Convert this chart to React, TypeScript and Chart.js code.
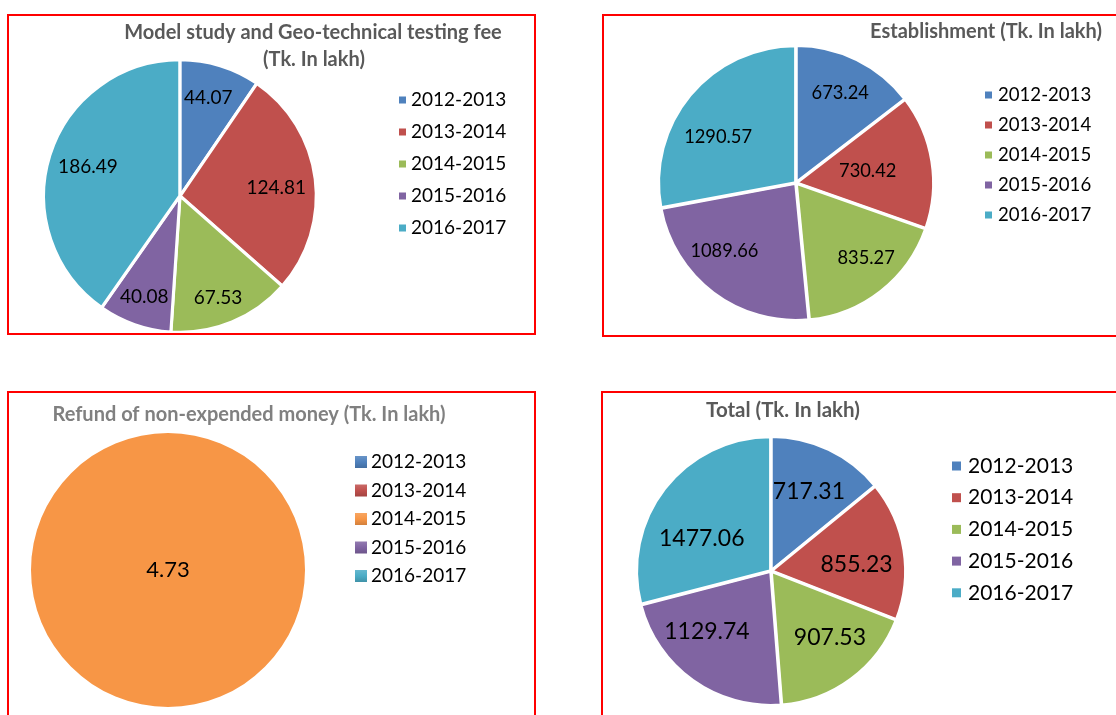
import React, { useEffect, useRef } from "react";
import { Chart, registerables } from "chart.js";

Chart.register(...registerables);

// ---------- data ----------
const years = ["2012-2013", "2013-2014", "2014-2015", "2015-2016", "2016-2017"];

const modelStudyValues = [44.07, 124.81, 67.53, 40.08, 186.49];
const establishmentValues = [673.24, 730.42, 835.27, 1089.66, 1290.57];
const refundValues = [0, 0, 4.73, 0, 0];
const totalValues = [717.31, 855.23, 907.53, 1129.74, 1477.06];

const modelStudyTitle = ["Model study and Geo-technical testing fee", "(Tk. In lakh)"];
const establishmentTitle = ["Establishment (Tk. In lakh)"];
const refundTitle = ["Refund of non-expended money (Tk. In lakh)"];
const totalTitle = ["Total (Tk. In lakh)"];

const officeColors = ["#4F81BD", "#C0504D", "#9BBB59", "#8064A2", "#4BACC6"];
const refundColors = ["#4F81BD", "#C0504D", "#F79646", "#8064A2", "#4BACC6"];

// ---------- layout ----------
const FONT = "Lato, 'Open Sans', sans-serif";
const BORDER = 2;

type Panel = {
  key: string;
  left: number;
  top: number;
  width: number;
  height: number;
  values: number[];
  colors: string[];
  gradientLegend: boolean;
  cx: number;
  cy: number;
  radius: number;
  borderWidth: number;
  offset: number;
  titles: string[];
  titlePos: { x: number; y: number }[];
  titleColor: string;
  titleSize: number;
  legendSquareX: number;
  legendSquareSize: number;
  legendTextX: number;
  legendY0: number;
  legendStep: number;
  legendSize: number;
  labelSize: number;
  labelFractions: number[];
  labelShifts: number[];
};

const panels: Panel[] = [
  {
    key: "model",
    left: 7,
    top: 14,
    width: 529,
    height: 321,
    values: modelStudyValues,
    colors: officeColors,
    gradientLegend: false,
    cx: 180,
    cy: 196,
    radius: 136,
    borderWidth: 3,
    offset: 1,
    titles: modelStudyTitle,
    titlePos: [
      { x: 313, y: 33 },
      { x: 314, y: 60 },
    ],
    titleColor: "#595959",
    titleSize: 20,
    legendSquareX: 399,
    legendSquareSize: 7,
    legendTextX: 411,
    legendY0: 100,
    legendStep: 32,
    legendSize: 19,
    labelSize: 19,
    labelFractions: [0.75, 0.71, 0.8, 0.79, 0.71],
    labelShifts: [-1, 2.4, 2, 0, 0],
  },
  {
    key: "establishment",
    left: 602,
    top: 14,
    width: 530,
    height: 323,
    values: establishmentValues,
    colors: officeColors,
    gradientLegend: false,
    cx: 796,
    cy: 183,
    radius: 137,
    borderWidth: 3,
    offset: 2,
    titles: establishmentTitle,
    titlePos: [{ x: 986, y: 32 }],
    titleColor: "#595959",
    titleSize: 20,
    legendSquareX: 985,
    legendSquareSize: 7,
    legendTextX: 998,
    legendY0: 95,
    legendStep: 30,
    legendSize: 18.6,
    labelSize: 18.3,
    labelFractions: [0.73, 0.53, 0.75, 0.72, 0.66],
    labelShifts: [0, 0, -5, 9.6, -9.2],
  },
  {
    key: "refund",
    left: 7,
    top: 391,
    width: 529,
    height: 345,
    values: refundValues,
    colors: refundColors,
    gradientLegend: true,
    cx: 168,
    cy: 570,
    radius: 137,
    borderWidth: 0,
    offset: 0,
    titles: refundTitle,
    titlePos: [{ x: 249, y: 415 }],
    titleColor: "#808080",
    titleSize: 20,
    legendSquareX: 355,
    legendSquareSize: 12,
    legendTextX: 371,
    legendY0: 462,
    legendStep: 28.5,
    legendSize: 19,
    labelSize: 22,
    labelFractions: [0, 0, 0, 0, 0],
    labelShifts: [0, 0, 0, 0, 0],
  },
  {
    key: "total",
    left: 601,
    top: 391,
    width: 530,
    height: 345,
    values: totalValues,
    colors: officeColors,
    gradientLegend: false,
    cx: 771,
    cy: 571,
    radius: 134,
    borderWidth: 3,
    offset: 2,
    titles: totalTitle,
    titlePos: [{ x: 783, y: 410 }],
    titleColor: "#595959",
    titleSize: 20.5,
    legendSquareX: 952,
    legendSquareSize: 9,
    legendTextX: 968,
    legendY0: 466,
    legendStep: 31.7,
    legendSize: 21,
    labelSize: 23,
    labelFractions: [0.66, 0.64, 0.665, 0.66, 0.57],
    labelShifts: [0, 5, -4.8, 10.9, -12.8],
  },
];

function shade(hex: string, amt: number): string {
  const n = parseInt(hex.slice(1), 16);
  const ch = [(n >> 16) & 255, (n >> 8) & 255, n & 255].map((c) => {
    const v = amt >= 0 ? c + (255 - c) * amt : c * (1 + amt);
    return Math.max(0, Math.min(255, Math.round(v)));
  });
  return `rgb(${ch[0]},${ch[1]},${ch[2]})`;
}

function makeOverlay(p: Panel) {
  return {
    id: "overlay_" + p.key,
    afterDatasetsDraw(chart: any) {
      const ctx: CanvasRenderingContext2D = chart.ctx;
      const ox = p.left + BORDER;
      const oy = p.top + BORDER;
      ctx.save();

      // titles
      ctx.fillStyle = p.titleColor;
      ctx.font = `bold ${p.titleSize}px ${FONT}`;
      ctx.textAlign = "center";
      ctx.textBaseline = "middle";
      p.titles.forEach((t, i) => {
        const pos = p.titlePos[i];
        ctx.fillText(t, pos.x - ox, pos.y - oy);
      });

      // legend
      ctx.font = `${p.legendSize}px ${FONT}`;
      ctx.textAlign = "left";
      const labels: string[] = chart.data.labels;
      const bg: string[] = chart.data.datasets[0].backgroundColor;
      labels.forEach((lab, i) => {
        const y = p.legendY0 + i * p.legendStep - oy;
        const s = p.legendSquareSize;
        const sx = p.legendSquareX - ox;
        if (p.gradientLegend) {
          const g = ctx.createLinearGradient(0, y - s / 2, 0, y + s / 2);
          g.addColorStop(0, shade(bg[i], 0.15));
          g.addColorStop(0.5, bg[i]);
          g.addColorStop(1, shade(bg[i], -0.15));
          ctx.fillStyle = g;
        } else {
          ctx.fillStyle = bg[i];
        }
        ctx.fillRect(sx, y - s / 2, s, s);
        ctx.fillStyle = "#000000";
        ctx.fillText(lab, p.legendTextX - ox, y);
      });

      // data labels
      ctx.font = `${p.labelSize}px ${FONT}`;
      ctx.textAlign = "center";
      ctx.fillStyle = "#000000";
      const meta = chart.getDatasetMeta(0);
      const vals: number[] = chart.data.datasets[0].data;
      meta.data.forEach((arc: any, i: number) => {
        const v = vals[i];
        if (!v) return;
        const { x, y, startAngle, endAngle, outerRadius } = arc.getProps(
          ["x", "y", "startAngle", "endAngle", "outerRadius"],
          true
        );
        const full = endAngle - startAngle >= Math.PI * 2 - 1e-6;
        const f = full ? 0 : p.labelFractions[i];
        const mid = (startAngle + endAngle) / 2 + (p.labelShifts[i] * Math.PI) / 180;
        const lx = x + Math.cos(mid) * outerRadius * f;
        const ly = y + Math.sin(mid) * outerRadius * f;
        ctx.fillText(v.toFixed(2), lx, ly);
      });

      ctx.restore();
    },
  };
}

function PiePanel({ p }: { p: Panel }) {
  const ref = useRef<HTMLCanvasElement | null>(null);
  const w = p.width - BORDER * 2;
  const h = p.height - BORDER * 2;

  useEffect(() => {
    if (!ref.current) return;
    const lcx = p.cx - p.left - BORDER;
    const lcy = p.cy - p.top - BORDER;
    const padding = {
      left: Math.max(0, 2 * lcx - w),
      right: Math.max(0, w - 2 * lcx),
      top: Math.max(0, 2 * lcy - h),
      bottom: Math.max(0, h - 2 * lcy),
    };
    const chart = new Chart(ref.current, {
      type: "pie",
      data: {
        labels: years,
        datasets: [
          {
            data: p.values,
            backgroundColor: p.colors,
            borderColor: "#FFFFFF",
            borderWidth: p.borderWidth,
            offset: p.offset,
            radius: p.radius,
          } as any,
        ],
      },
      options: {
        animation: false,
        responsive: false,
        events: [],
        layout: { padding },
        plugins: {
          legend: { display: false },
          title: { display: false },
          tooltip: { enabled: false },
        },
      },
      plugins: [makeOverlay(p)],
    });
    return () => chart.destroy();
  }, [p]);

  return (
    <div
      style={{
        position: "absolute",
        left: p.left,
        top: p.top,
        width: p.width,
        height: p.height,
        border: `${BORDER}px solid #FF0000`,
        boxSizing: "border-box",
        background: "#FFFFFF",
      }}
    >
      <canvas ref={ref} width={w} height={h} style={{ display: "block" }} />
    </div>
  );
}

export default function App() {
  return (
    <div
      style={{
        position: "fixed",
        left: 0,
        top: 0,
        width: 1116,
        height: 715,
        overflow: "hidden",
        background: "#FFFFFF",
      }}
    >
      {panels.map((p) => (
        <PiePanel key={p.key} p={p} />
      ))}
    </div>
  );
}
